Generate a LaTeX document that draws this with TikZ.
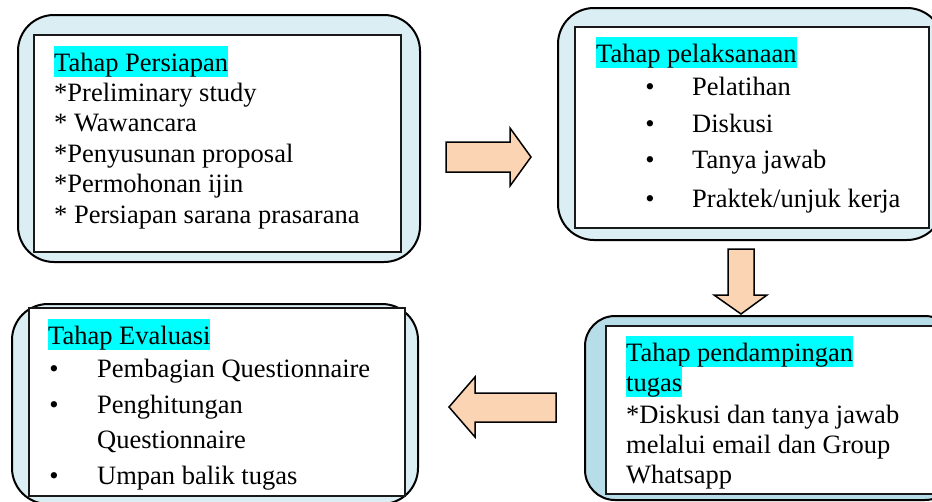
\documentclass[tikz,border=0pt]{standalone}
\usepackage{fontspec}
\setmainfont{Liberation Serif}
\definecolor{lightblue}{HTML}{DAEEF3}
\definecolor{midblue}{HTML}{B7DDE8}
\definecolor{peach}{HTML}{FBD4B4}
\definecolor{hilite}{HTML}{00FFFF}
\tikzset{
  outerbox/.style={draw=black, line width=2pt, rounded corners=36pt, fill=lightblue, anchor=north west, inner sep=0pt},
  innerbox/.style={draw=black!90, line width=1.8pt, fill=white, anchor=north west, inner sep=0pt},
  txt/.style={anchor=base west, inner sep=0pt, font=\fontsize{26.5pt}{30pt}\selectfont},
  hdr/.style={txt, fill=hilite, text height=25pt, text depth=6pt},
  bul/.style={anchor=base, inner sep=0pt, font=\fontsize{26.5pt}{30pt}\selectfont},
  blockarrow/.style={draw=black, line width=1.5pt, fill=peach, line join=miter}
}
\begin{document}
\begin{tikzpicture}[x=1pt, y=-1pt]
\useasboundingbox (0,0) rectangle (932,501);
\clip (0,0) rectangle (932,501);
% Box 1
\node[outerbox, minimum width=402pt, minimum height=247pt] (o1) at (17,14) {};
\node[innerbox, minimum width=367pt, minimum height=217pt] (i1) at (33,34) {};
\node[hdr] (h1) at (54,71) {Tahap Persiapan};
\node[txt] (t11) at (54,101.4) {*Preliminary study};
\node[txt] (t12) at (54,131.8) {* Wawancara};
\node[txt] (t13) at (54,162.2) {*Penyusunan proposal};
\node[txt] (t14) at (54,192.6) {*Permohonan ijin};
\node[txt] (t15) at (54,223) {* Persiapan sarana prasarana};
% Box 2
\node[outerbox, minimum width=385pt, minimum height=232pt] (o2) at (557,7) {};
\node[innerbox, minimum width=354pt, minimum height=201pt] (i2) at (574,26) {};
\node[hdr] (h2) at (596,62) {Tahap pelaksanaan};
\node[bul] (b21) at (650,95) {•};
\node[txt] (t21) at (692,95) {Pelatihan};
\node[bul] (b22) at (650,132) {•};
\node[txt] (t22) at (692,132) {Diskusi};
\node[bul] (b23) at (650,168.5) {•};
\node[txt] (t23) at (692,168.5) {Tanya jawab};
\node[bul] (b24) at (650,207) {•};
\node[txt] (t24) at (692,207) {Praktek/unjuk kerja};
% Box 3
\node[outerbox, fill=midblue, rounded corners=30pt, minimum width=370pt, minimum height=184pt] (o3) at (584,315) {};
\node[innerbox, minimum width=345pt, minimum height=168pt] (i3) at (605,325) {};
\node[hdr] (h3a) at (626,361) {Tahap pendampingan};
\node[hdr] (h3b) at (626,391) {tugas};
\node[txt] (t31) at (626,423) {*Diskusi dan tanya jawab};
\node[txt] (t32) at (626,453) {melalui email dan Group};
\node[txt] (t33) at (626,483) {Whatsapp};
% Box 4
\node[outerbox, minimum width=406pt, minimum height=200pt] (o4) at (11,303) {};
\node[innerbox, minimum width=376pt, minimum height=188pt] (i4) at (28,307) {};
\node[hdr] (h4) at (48,344) {Tahap Evaluasi};
\node[bul] (b41) at (54,377) {•};
\node[txt] (t41) at (97,377) {Pembagian Questionnaire};
\node[bul] (b42) at (54,413) {•};
\node[txt] (t42) at (97,413) {Penghitungan};
\node[txt] (t43) at (97,448) {Questionnaire};
\node[bul] (b44) at (54,484) {•};
\node[txt] (t44) at (97,484) {Umpan balik tugas};
% Block arrows
\draw[blockarrow] (446,142) -- (510,142) -- (510,128) -- (531,157) -- (510,186) -- (510,172) -- (446,172) -- cycle;
\draw[blockarrow] (728,249) -- (754,249) -- (754,295) -- (767,295) -- (741,314) -- (714,295) -- (728,295) -- cycle;
\draw[blockarrow] (556,393) -- (475,393) -- (475,377) -- (449,407) -- (475,437) -- (475,422) -- (556,422) -- cycle;
\end{tikzpicture}
\end{document}
